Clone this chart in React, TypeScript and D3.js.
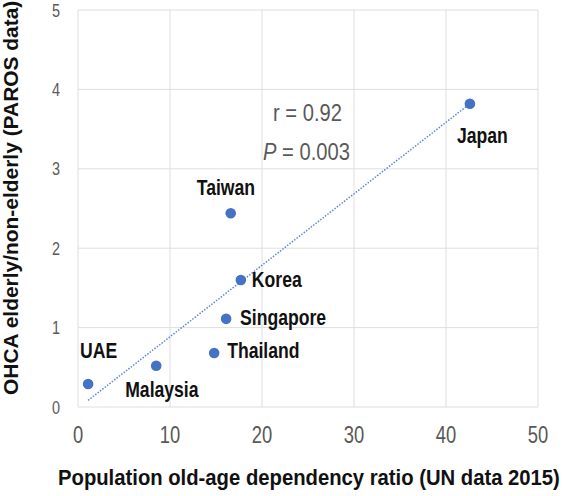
import React, { useLayoutEffect, useRef, useState } from "react";
import * as d3 from "d3";

const countries = ["UAE", "Malaysia", "Thailand", "Singapore", "Korea", "Taiwan", "Japan"];
const dependencyRatio = [1.1, 8.5, 14.8, 16.1, 17.7, 16.6, 42.6];
const ohcaRatio = [0.29, 0.52, 0.68, 1.11, 1.6, 2.44, 3.82];
const xTicks = [0, 10, 20, 30, 40, 50];
const yTicks = [0, 1, 2, 3, 4, 5];
const statR = "0.92";
const statP = "0.003";
const xTitle = "Population old-age dependency ratio (UN data 2015)";
const yTitle = "OHCA elderly/non-elderly (PAROS data)";

// label placement (pixels relative to point)
const labelOffsets: Record<string, [number, number]> = {
  UAE: [-8, -26],
  Malaysia: [-31, 31],
  Thailand: [13, 5],
  Singapore: [14, 6],
  Korea: [11, 7],
  Taiwan: [-34, -18],
  Japan: [-13, 39],
};

const W = 568;
const H = 496;
const FONT = "'Liberation Sans', Arial, sans-serif";

function NText({
  x,
  y,
  sx = 0.8,
  anchor = "start",
  size,
  fill,
  bold = false,
  children,
}: {
  x: number;
  y: number;
  sx?: number;
  anchor?: string;
  size: number;
  fill: string;
  bold?: boolean;
  children: React.ReactNode;
}) {
  return (
    <text
      transform={`translate(${x},${y}) scale(${sx},1)`}
      textAnchor={anchor}
      fontFamily={FONT}
      fontSize={size}
      fontWeight={bold ? "bold" : "normal"}
      fill={fill}
    >
      {children}
    </text>
  );
}

// text squeezed to a target length along its baseline
function FitText({
  transform,
  length,
  size,
  children,
}: {
  transform: string;
  length: number;
  size: number;
  children: string;
}) {
  const ref = useRef<SVGTextElement>(null);
  const [s, setS] = useState(0.82);
  useLayoutEffect(() => {
    if (ref.current) {
      const w = ref.current.getComputedTextLength();
      if (w > 0) setS(length / w);
    }
  }, [length, children]);
  return (
    <g transform={transform}>
      <text
        ref={ref}
        transform={`scale(${s},1)`}
        fontFamily={FONT}
        fontWeight="bold"
        fontSize={size}
        fill="#111"
      >
        {children}
      </text>
    </g>
  );
}

export default function App() {
  const x = d3.scaleLinear().domain([0, 50]).range([78, 538]);
  const y = d3.scaleLinear().domain([0, 5]).range([407, 10]);

  const n = dependencyRatio.length;
  const mx = d3.mean(dependencyRatio)!;
  const my = d3.mean(ohcaRatio)!;
  let sxy = 0;
  let sxx = 0;
  for (let i = 0; i < n; i++) {
    sxy += (dependencyRatio[i] - mx) * (ohcaRatio[i] - my);
    sxx += (dependencyRatio[i] - mx) ** 2;
  }
  const slope = sxy / sxx;
  const intercept = my - slope * mx;
  const [x0, x1] = d3.extent(dependencyRatio) as [number, number];
  const trend = d3
    .line<number>()
    .x((d) => x(d))
    .y((d) => y(intercept + slope * d));

  const grey = "#595959";
  const blue = "#4472c4";

  return (
    <div style={{ position: "absolute", left: 0, top: 0 }}>
      <svg width={W} height={H} style={{ display: "block", background: "#fff" }}>
        {/* grid */}
        {xTicks.map((t) => (
          <line key={"gx" + t} x1={x(t)} x2={x(t)} y1={y(5)} y2={y(0)} stroke="#dedede" strokeWidth={1} />
        ))}
        {yTicks.map((t) => (
          <line key={"gy" + t} x1={x(0)} x2={x(50)} y1={y(t)} y2={y(t)} stroke="#dedede" strokeWidth={1} />
        ))}
        {/* tick labels */}
        {yTicks.map((t) => (
          <NText key={"ty" + t} x={60} y={y(t) + 6.5} anchor="end" size={18} fill={grey}>
            {t}
          </NText>
        ))}
        {xTicks.map((t) => (
          <NText key={"tx" + t} x={x(t)} y={443} anchor="middle" size={23} fill={grey}>
            {t}
          </NText>
        ))}
        {/* trend line */}
        <path
          d={trend([x0, x1]) || ""}
          fill="none"
          stroke={blue}
          strokeWidth={1.5}
          strokeDasharray="1.5 1.5"
          opacity={0.85}
        />
        {/* points */}
        {countries.map((c, i) => (
          <circle key={c} cx={x(dependencyRatio[i])} cy={y(ohcaRatio[i])} r={5.3} fill={blue} />
        ))}
        {/* labels */}
        {countries.map((c, i) => {
          const [dx, dy] = labelOffsets[c];
          return (
            <NText
              key={"l" + c}
              x={x(dependencyRatio[i]) + dx}
              y={y(ohcaRatio[i]) + dy}
              size={22}
              bold
              fill="#111"
            >
              {c}
            </NText>
          );
        })}
        {/* stats */}
        <NText x={273} y={121} sx={0.84} size={24} fill={grey}>
          r = {statR}
        </NText>
        <NText x={263} y={160} sx={0.84} size={24} fill={grey}>
          <tspan fontStyle="italic">P</tspan> = {statP}
        </NText>
        {/* axis titles */}
        <FitText transform="translate(58,485)" length={502} size={23}>
          {xTitle}
        </FitText>
        <FitText transform="translate(18,395) rotate(-90)" length={394} size={20}>
          {yTitle}
        </FitText>
      </svg>
    </div>
  );
}
